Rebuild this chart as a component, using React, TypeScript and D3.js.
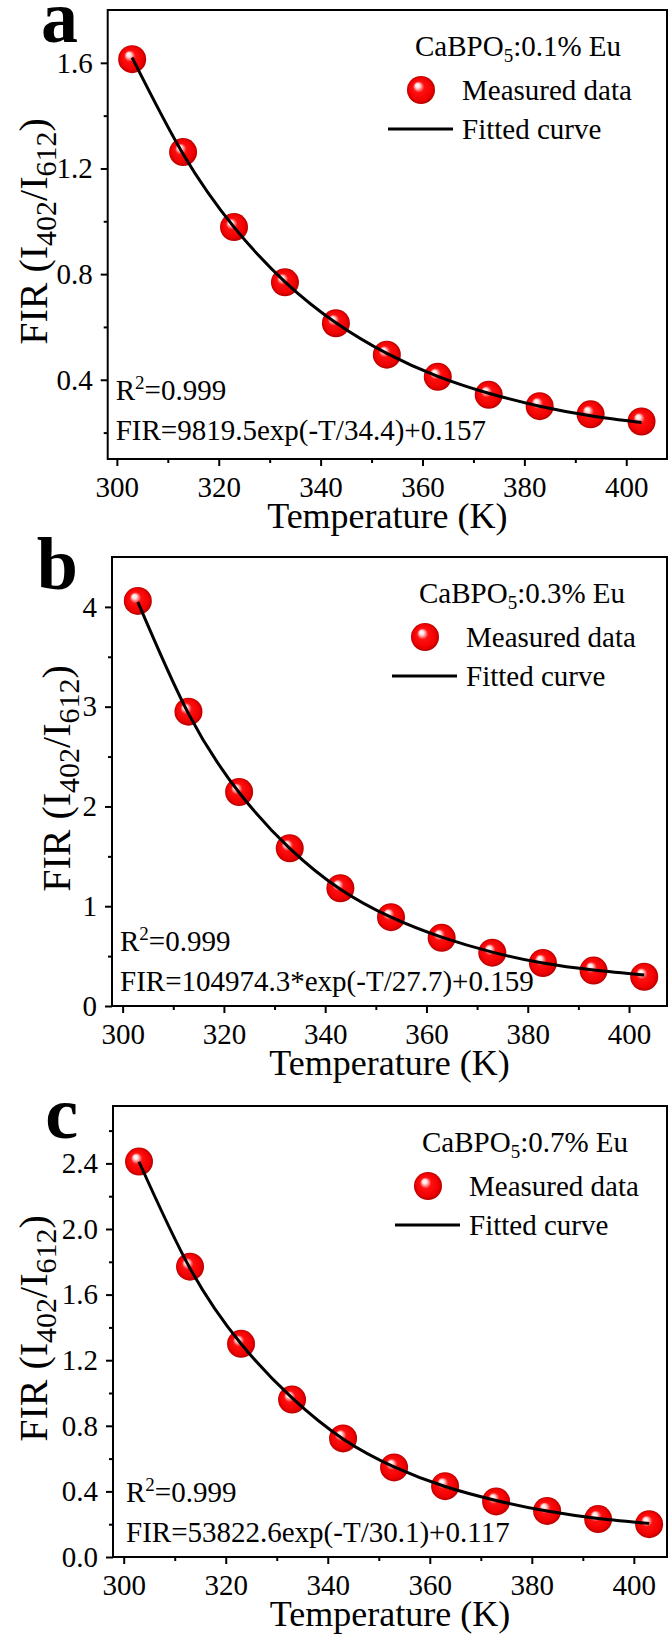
import React, { useEffect, useRef } from 'react';
import * as d3 from 'd3';

// temperatures of the measurements (K)
const temperatures = [303, 313, 323, 333, 343, 353, 363, 373, 383, 393, 403];

const firA = [1.614, 1.262, 0.978, 0.769, 0.614, 0.495, 0.411, 0.343, 0.3, 0.269, 0.242];
const firB = [4.06, 2.95, 2.145, 1.58, 1.18, 0.89, 0.683, 0.534, 0.431, 0.355, 0.293];
const firC = [2.411, 1.77, 1.3, 0.96, 0.723, 0.546, 0.432, 0.339, 0.281, 0.231, 0.2];

// fitted curve, read at the same temperatures
const fitA = [1.62, 1.255, 0.978, 0.771, 0.616, 0.5, 0.413, 0.349, 0.3, 0.264, 0.238];
const fitB = [4.05, 2.93, 2.14, 1.58, 1.17, 0.89, 0.69, 0.54, 0.43, 0.36, 0.31];
const fitC = [2.41, 1.76, 1.3, 0.97, 0.72, 0.55, 0.43, 0.345, 0.28, 0.235, 0.205];

const xTicks = [300, 320, 340, 360, 380, 400];
const xMinorTicks = [310, 330, 350, 370, 390];

const yTicksA = [0.4, 0.8, 1.2, 1.6];
const yMinorA = [0.2, 0.6, 1.0, 1.4];
const yTicksB = [0, 1, 2, 3, 4];
const yMinorB = [0.5, 1.5, 2.5, 3.5];
const yTicksC = [0, 0.4, 0.8, 1.2, 1.6, 2.0, 2.4];
const yMinorC = [0.2, 0.6, 1.0, 1.4, 1.8, 2.2, 2.6];

const panelLabels = ['a', 'b', 'c'];
const samples = ['0.1%', '0.3%', '0.7%'];
const r2Text = ['0.999', '0.999', '0.999'];
const equations = [
  'FIR=9819.5exp(-T/34.4)+0.157',
  'FIR=104974.3*exp(-T/27.7)+0.159',
  'FIR=53822.6exp(-T/30.1)+0.117',
];

const W = 670;
const H = 1636;
const FONT = "'Liberation Serif', 'Times New Roman', Times, 'DejaVu Serif', serif";

const panels = [
  { left: 107.7, right: 667, top: 10, bottom: 459, xDomain: [298.2, 408], yDomain: [0.1, 1.8], fmt: '.1f',
    fir: firA, fit: fitA, yTicks: yTicksA, yMinor: yMinorA, titleX: 47, legendX: 421 },
  { left: 112, right: 667, top: 557, bottom: 1006, xDomain: [297.9, 407.5], yDomain: [0, 4.5], fmt: 'd',
    fir: firB, fit: fitB, yTicks: yTicksB, yMinor: yMinorB, titleX: 70, legendX: 425 },
  { left: 113, right: 667, top: 1106, bottom: 1557, xDomain: [297.9, 406.5], yDomain: [0, 2.75], fmt: '.1f',
    fir: firC, fit: fitC, yTicks: yTicksC, yMinor: yMinorC, titleX: 47, legendX: 428 },
];

function App() {
  const svgRef = useRef<SVGSVGElement>(null);

  useEffect(() => {
    if (!svgRef.current) return;
    const svg = d3.select(svgRef.current);
    svg.selectAll('*').remove();

    const defs = svg.append('defs');
    const grad = defs.append('radialGradient')
      .attr('id', 'ball')
      .attr('cx', '50%').attr('cy', '50%').attr('r', '50%')
      .attr('fx', '36%').attr('fy', '32%');
    grad.append('stop').attr('offset', '0%').attr('stop-color', '#ffffff');
    grad.append('stop').attr('offset', '16%').attr('stop-color', '#ffe0e0');
    grad.append('stop').attr('offset', '40%').attr('stop-color', '#ff1010');
    grad.append('stop').attr('offset', '82%').attr('stop-color', '#f00000');
    grad.append('stop').attr('offset', '100%').attr('stop-color', '#b50000');

    const txt = (sel: any, size: number) => sel.style('font-family', FONT).style('font-size', `${size}px`);

    panels.forEach((p, i) => {
      const x = d3.scaleLinear().domain(p.xDomain).range([p.left, p.right]);
      const y = d3.scaleLinear().domain(p.yDomain).range([p.bottom, p.top]);
      const g = svg.append('g');

      // x axis
      const xAx = g.append('g').attr('transform', `translate(0,${p.bottom})`)
        .call(d3.axisBottom(x).tickValues(xTicks).tickSize(7).tickPadding(10).tickFormat(d3.format('d')));
      g.append('g').attr('transform', `translate(0,${p.bottom})`)
        .call(d3.axisBottom(x).tickValues(xMinorTicks).tickSize(4).tickFormat(() => ''));

      // y axis
      const yAx = g.append('g').attr('transform', `translate(${p.left},0)`)
        .call(d3.axisLeft(y).tickValues(p.yTicks).tickSize(7).tickPadding(8).tickFormat(d3.format(p.fmt)));
      g.append('g').attr('transform', `translate(${p.left},0)`)
        .call(d3.axisLeft(y).tickValues(p.yMinor).tickSize(4).tickFormat(() => ''));

      g.selectAll('.domain').remove();
      g.selectAll('.tick line').attr('stroke', '#000').attr('stroke-width', 2);
      [xAx, yAx].forEach(a => txt(a.selectAll('text'), 29).attr('fill', '#000'));

      // frame
      g.append('rect')
        .attr('x', p.left).attr('y', p.top)
        .attr('width', p.right - p.left).attr('height', p.bottom - p.top)
        .attr('fill', 'none').attr('stroke', '#000').attr('stroke-width', 2);

      // measured points
      g.append('g').selectAll('circle')
        .data(temperatures)
        .join('circle')
        .attr('cx', d => x(d))
        .attr('cy', (d, j) => y(p.fir[j]))
        .attr('r', 14)
        .attr('fill', 'url(#ball)');

      // fitted curve
      const line = d3.line<number>()
        .x(d => x(d))
        .y((d, j) => y(p.fit[j]))
        .curve(d3.curveNatural);
      g.append('path')
        .attr('d', line(temperatures))
        .attr('fill', 'none').attr('stroke', '#000').attr('stroke-width', 3);

      // panel letter
      txt(g.append('text'), 74)
        .attr('x', 78).attr('y', p.top + 32)
        .attr('text-anchor', 'end')
        .attr('font-weight', 'bold')
        .text(panelLabels[i]);

      // axis titles
      txt(g.append('text'), 36)
        .attr('x', (p.left + p.right) / 2).attr('y', p.bottom + 69)
        .attr('text-anchor', 'middle')
        .text('Temperature (K)');

      const yt = txt(g.append('text'), 40)
        .attr('transform', `translate(${p.titleX},${(p.top + p.bottom) / 2 - 3}) rotate(-90)`)
        .attr('text-anchor', 'middle');
      yt.append('tspan').text('FIR (I');
      yt.append('tspan').style('font-size', '30px').attr('dy', 9).text('402');
      yt.append('tspan').attr('dy', -9).text('/I');
      yt.append('tspan').style('font-size', '30px').attr('dy', 9).text('612');
      yt.append('tspan').attr('dy', -9).text(')');

      // legend
      const bx = p.legendX;
      const lt = txt(g.append('text'), 29)
        .attr('x', bx - 6).attr('y', p.top + 45.5);
      lt.append('tspan').text('CaBPO');
      lt.append('tspan').style('font-size', '19px').attr('dy', 6).text('5');
      lt.append('tspan').attr('dy', -6).text(`:${samples[i]} Eu`);

      g.append('circle').attr('cx', bx).attr('cy', p.top + 80).attr('r', 14).attr('fill', 'url(#ball)');
      txt(g.append('text'), 29)
        .attr('x', bx + 41).attr('y', p.top + 90)
        .text('Measured data');
      g.append('line')
        .attr('x1', bx - 33).attr('x2', bx + 32)
        .attr('y1', p.top + 119).attr('y2', p.top + 119)
        .attr('stroke', '#000').attr('stroke-width', 3);
      txt(g.append('text'), 29)
        .attr('x', bx + 41).attr('y', p.top + 129)
        .text('Fitted curve');

      // fit annotation
      const ax = p.left + 8 + (i === 2 ? 5 : 0);
      const r2 = txt(g.append('text'), 29)
        .attr('x', ax).attr('y', p.bottom - (i === 0 ? 59 : 55));
      r2.append('tspan').text('R');
      r2.append('tspan').style('font-size', '19px').attr('dy', -11).text('2');
      r2.append('tspan').attr('dy', 11).text(`=${r2Text[i]}`);

      txt(g.append('text'), 29)
        .attr('x', ax).attr('y', p.bottom - (i === 0 ? 19 : 15))
        .text(equations[i]);
    });

    return () => { svg.selectAll('*').remove(); };
  }, []);

  return (
    <div style={{ position: 'absolute', left: 0, top: 0 }}>
      <svg ref={svgRef} width={W} height={H} style={{ display: 'block', background: '#fff' }} />
    </div>
  );
}

export default App;
